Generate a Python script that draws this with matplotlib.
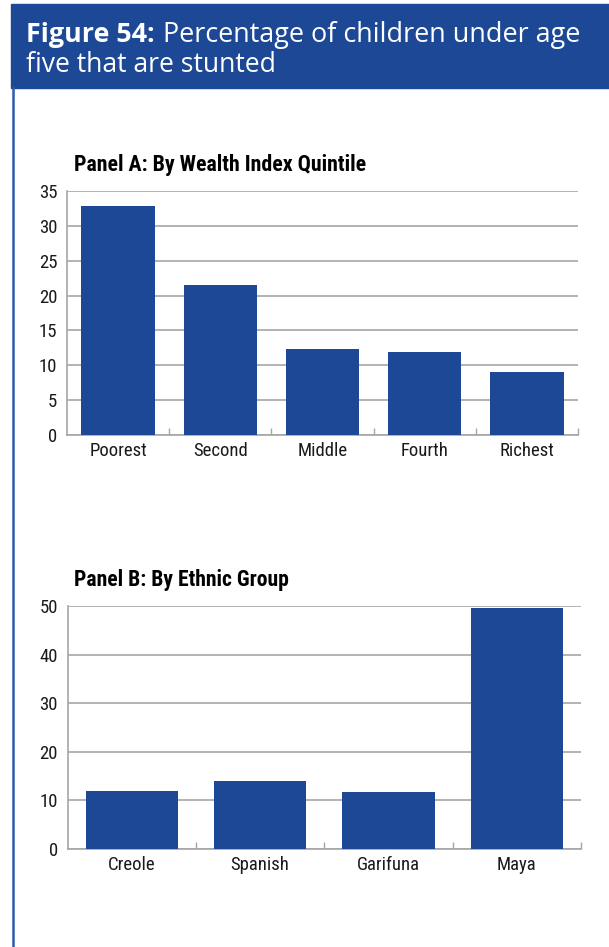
import matplotlib.pyplot as plt
from matplotlib import font_manager
from matplotlib.patches import Rectangle
from matplotlib.lines import Line2D
import numpy as np

# data
wealth_labels = ['Poorest', 'Second', 'Middle', 'Fourth', 'Richest']
wealth_values = [32.8, 21.5, 12.3, 11.9, 9.0]
ethnic_labels = ['Creole', 'Spanish', 'Garifuna', 'Maya']
ethnic_values = [12.0, 14.0, 11.8, 49.6]

W, H = 609, 947
BLUE = '#1c4896'
GRID = '#a6a6a6'

installed = set(f.name for f in font_manager.fontManager.ttflist)


def pick(prefs):
    for p in prefs:
        if p in installed:
            return p
    return 'DejaVu Sans'


NARROW = pick(['Roboto Condensed', 'Archivo Narrow', 'PT Sans Narrow',
               'Liberation Sans Narrow', 'Fira Sans Condensed',
               'Barlow Semi Condensed', 'Open Sans'])
BANNER = pick(['Open Sans', 'Lato'])

fig = plt.figure(figsize=(W / 100, H / 100), dpi=100)
renderer = fig.canvas.get_renderer()

# banner + left border
fig.patches.append(Rectangle((11 / W, 1 - 88 / H), (W - 11) / W, 84 / H,
                             transform=fig.transFigure, color=BLUE, zorder=0))
fig.lines.append(Line2D([12.5 / W, 12.5 / W], [0, 1 - 88 / H],
                        transform=fig.transFigure, color='#2a5db0', lw=1.8))


def fit_text(x, y, s, width_px, size=16, **kw):
    t = fig.text(x / W, 1 - y / H, s, fontsize=size, va='baseline', **kw)
    w = t.get_window_extent(renderer).width
    t.set_fontsize(size * width_px / w)
    return t


fit_text(26, 42, 'Figure 54:', 129, color='white', family=BANNER,
         weight='bold')
fit_text(163, 42, 'Percentage of children under age', 418,
         color='white', family=BANNER)
fit_text(26, 72, 'five that are stunted', 251, color='white',
         family=BANNER)


def panel(rect, labels, values, ymax, step, title, title_w):
    l, t, r, b = rect
    ax = fig.add_axes([l / W, 1 - b / H, (r - l) / W, (b - t) / H])
    x = np.arange(len(labels))
    ax.bar(x, values, width=0.72, color=BLUE, zorder=3)
    ax.set_xlim(-0.5, len(labels) - 0.5)
    ax.set_ylim(0, ymax)
    ax.set_yticks(np.arange(0, ymax + 1, step))
    ax.set_xticks(x)
    ax.set_xticklabels(labels)
    ax.set_xticks(np.arange(0.5, len(labels), 1), minor=True)
    ax.tick_params(axis='x', which='major', length=0, pad=5)
    ax.tick_params(axis='x', which='minor', length=5, direction='in',
                   color=GRID, width=1)
    ax.tick_params(axis='y', length=0, pad=7)
    for lab in ax.get_xticklabels() + ax.get_yticklabels():
        lab.set_family(NARROW)
        lab.set_fontsize(13.5)
        lab.set_color('#1a1a1a')
    ax.grid(axis='y', color=GRID, lw=1.2, zorder=0)
    for s in ['top', 'right']:
        ax.spines[s].set_visible(False)
    for s in ['left', 'bottom']:
        ax.spines[s].set_color(GRID)
        ax.spines[s].set_linewidth(1.2)
    fit_text(74, t - 20, title, title_w, size=13.5, weight='bold',
             family=NARROW)
    return ax


panel((67, 191, 578, 435), wealth_labels, wealth_values, 35, 5,
      'Panel A: By Wealth Index Quintile', 293)
panel((67.6, 606, 581, 849), ethnic_labels, ethnic_values, 50, 10,
      'Panel B: By Ethnic Group', 215)

fig.savefig('out.png', dpi=100)
